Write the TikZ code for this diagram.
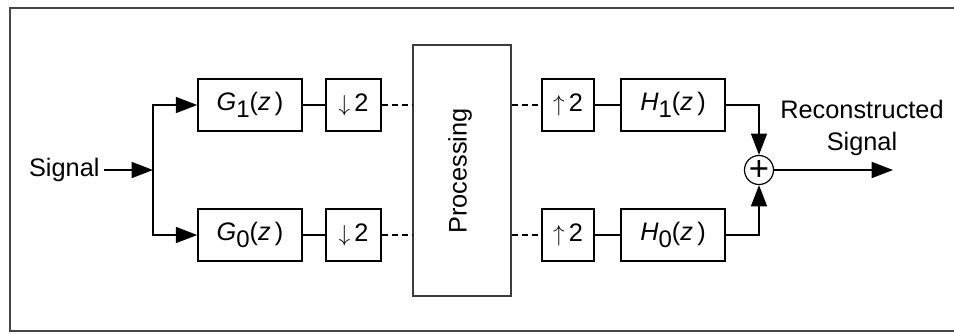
\documentclass[tikz,border=0pt]{standalone}
\usepackage{fontspec}
\setmainfont{Liberation Sans}
\usetikzlibrary{arrows.meta}

\tikzset{every picture/.style={line width=0.75pt}}

% filter label, e.g. G_1(z)
\newcommand{\fltr}[2]{{\itshape #1}\raisebox{-0.5ex}{\fontsize{18}{18}\selectfont #2}({\itshape z}\,)}
% rate changer label
\newcommand{\rate}[1]{$#1$\,2}

\begin{document}
\begin{tikzpicture}[x=0.75pt,y=0.75pt,yscale=-1,xscale=1,
    font=\fontsize{19}{22}\selectfont,
    blk/.style={draw, line width=1.2pt, inner sep=0pt, minimum height=39pt},
    wire/.style={line width=1.2pt},
    arr/.style={wire, -{Triangle[length=16pt,width=12pt]}},
    dsh/.style={wire, dash pattern=on 4.5pt off 3pt}]
		\useasboundingbox (0,0) rectangle (954,333);

		%Frame, open on the right
		\draw [color={rgb,255:red,70;green,70;blue,70}, line width=1.5pt] (954,8) -- (10,8) -- (10,331) -- (954,331) ;

		% Text Node
		\node [anchor=east, inner sep=3pt] (sig) at (104,170) {Signal};
		\coordinate (br) at (153,170);
		\coordinate (out) at (893,170);

		%Shape: Rectangle
		\node [blk, minimum width=78pt] (g1) at (250,105) {\fltr{G}{1}};
		\node [blk, minimum width=78pt] (g0) at (250,235) {\fltr{G}{0}};
		\node [blk, minimum width=41.25pt] (d1) at (353.5,105) {\rate{\downarrow}};
		\node [blk, minimum width=41.25pt] (d0) at (353.5,235) {\rate{\downarrow}};

		%Shape: Rectangle
		\node [blk, draw={rgb,255:red,60;green,60;blue,60}, minimum width=73.5pt, minimum height=188.25pt] (proc) at (462,170.5) {};
		\node [rotate=90] (proctxt) at (460,171) {Processing};

		%Shape: Rectangle
		\node [blk, minimum width=39pt] (u1) at (568,105) {\rate{\uparrow}};
		\node [blk, minimum width=39pt] (u0) at (568,235) {\rate{\uparrow}};
		\node [blk, minimum width=78pt] (h1) at (673,105) {\fltr{H}{1}};
		\node [blk, minimum width=78pt] (h0) at (673,235) {\fltr{H}{0}};

		%Shape: Circle
		\node [draw, circle, line width=0.9pt, inner sep=0pt, minimum size=21.75pt, font=\fontsize{26}{26}\selectfont] (sum) at (759,170) {+};

		% Text Node
		\node [align=center, inner sep=0pt] (rec) at (862,128) {Reconstructed\\[2pt]Signal};

		%Straight Lines
		\draw [arr] (sig) -- (br) ;
		\draw [arr] (br) |- (g1) ;
		\draw [arr] (br) |- (g0) ;
		\draw [wire] (g1) -- (d1) ;
		\draw [wire] (g0) -- (d0) ;
		\draw [dsh] (d1) -- (d1 -| proc.west) ;
		\draw [dsh] (d0) -- (d0 -| proc.west) ;
		\draw [dsh] (u1 -| proc.east) -- (u1) ;
		\draw [dsh] (u0 -| proc.east) -- (u0) ;
		\draw [wire] (u1) -- (h1) ;
		\draw [wire] (u0) -- (h0) ;
		\draw [arr] (h1) -| (sum) ;
		\draw [arr] (h0) -| (sum) ;
		\draw [arr] (sum) -- (out) ;

\end{tikzpicture}
\end{document}
